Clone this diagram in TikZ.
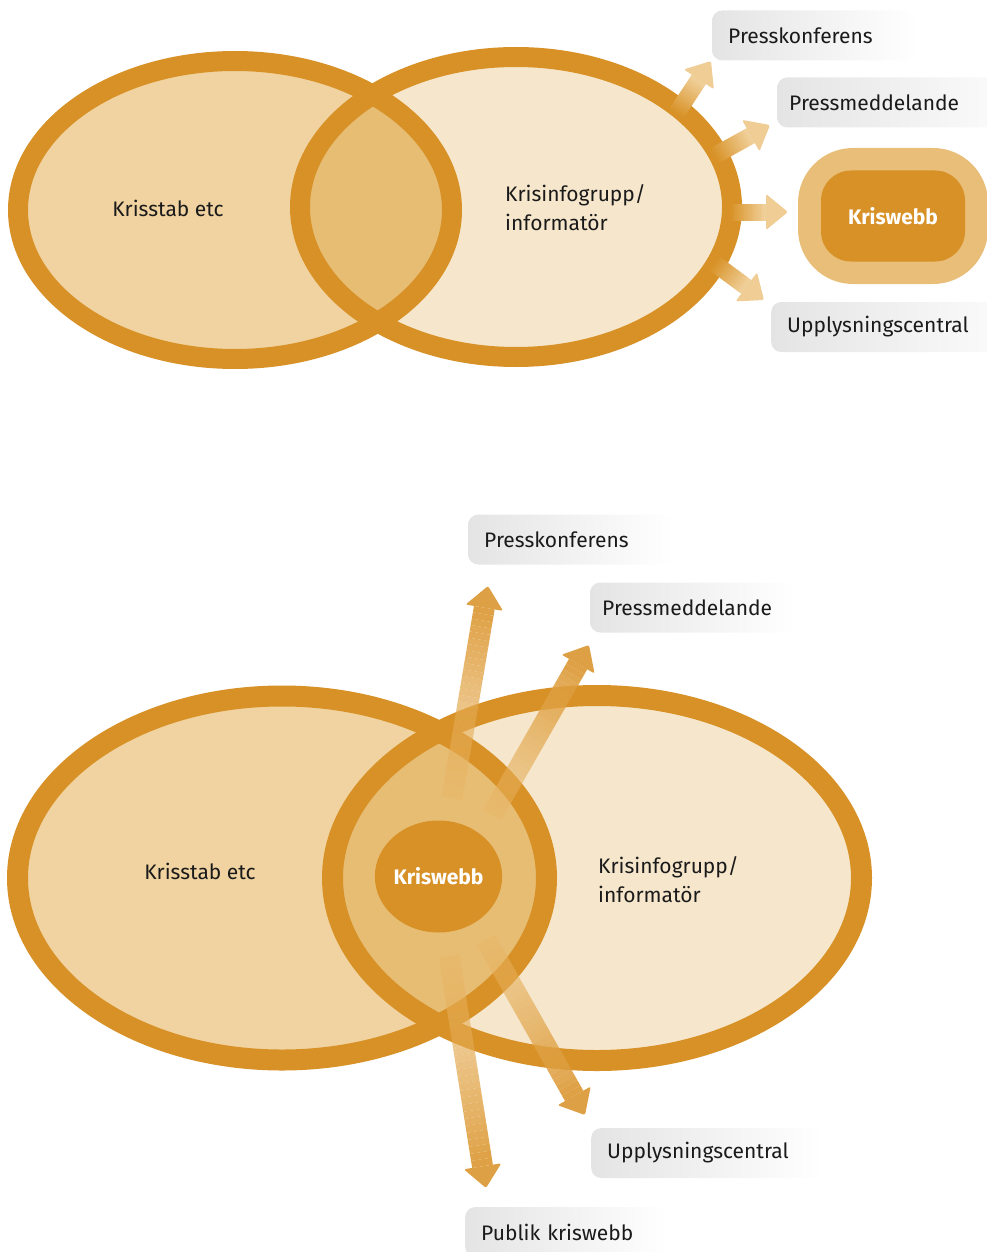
\documentclass[tikz,border=0pt]{standalone}
\usepackage{fontspec}
\setmainfont{Fira Sans}
\usetikzlibrary{calc,shapes.geometric}

\definecolor{ring}{HTML}{D89126}
\definecolor{stabfill}{HTML}{F0D3A0}
\definecolor{infofill}{HTML}{F6E7CC}
\definecolor{overlapfill}{HTML}{E7BD74}
\definecolor{webbouter}{HTML}{E8BE78}
\definecolor{ink}{HTML}{1A1A1A}
\definecolor{tagshade}{HTML}{E4E4E4}
\definecolor{rayfrom}{HTML}{D89126}
\definecolor{rayto}{HTML}{F1D29E}
\definecolor{beamfrom}{HTML}{E9B666}
\definecolor{beamto}{HTML}{DC9A38}

\tikzset{
  every node/.style={font=\fontsize{21}{29}\selectfont, text=ink},
  ringline/.style={draw=ring, line width=20pt},
  ringlinewide/.style={draw=ring, line width=21pt},
  tag/.style={rectangle, rounded corners=10pt, left color=tagshade, right color=white,
    minimum height=50pt, inner xsep=16pt, inner ysep=0pt, align=left, anchor=west},
  plain/.style={align=left, anchor=west, inner sep=0pt},
  webbtext/.style={font=\fontsize{21}{26}\selectfont\bfseries, text=white},
}

% opaque ray: shaft shaded from the ring colour towards a pale tip
\newcommand\solidray[2]{%
  \coordinate (#2-base) at ($(#2)!22pt!(#1)$);
  \foreach \k in {0,...,19}{
    \pgfmathsetmacro\fa{\k/20}
    \pgfmathsetmacro\fb{(\k+1.15)/20}
    \pgfmathtruncatemacro\mixpct{100*(\k+0.5)/20}
    \draw[line width=17pt, draw=rayto!\mixpct!rayfrom]
      ($(#1)!\fa!(#2-base)$) -- ($(#1)!\fb!(#2-base)$);
  }
  \fill[rayto!92!rayfrom, rounded corners=2pt]
    ($(#2-base)!18pt!90:(#2)$) -- (#2) -- ($(#2-base)!18pt!-90:(#2)$) -- cycle;
}

% translucent ray: fades in from the centre outwards
\newcommand\fadedray[2]{%
  \coordinate (#2-base) at ($(#2)!22pt!(#1)$);
  \foreach \k in {0,...,29}{
    \pgfmathsetmacro\fa{\k/30}
    \pgfmathsetmacro\fb{(\k+1)/30}
    \pgfmathtruncatemacro\mixpct{100*(\k+0.5)/30}
    \pgfmathsetmacro\op{0.45+0.5*(\k+0.5)/30}
    \draw[line width=21pt, draw=beamto!\mixpct!beamfrom, draw opacity=\op]
      ($(#1)!\fa!(#2-base)$) -- ($(#1)!\fb!(#2-base)$);
  }
  \fill[beamto, fill opacity=0.94, rounded corners=2pt]
    ($(#2-base)!19pt!90:(#2)$) -- (#2) -- ($(#2-base)!19pt!-90:(#2)$) -- cycle;
}

\begin{document}
\begin{tikzpicture}[x=1pt, y=-1pt]
\useasboundingbox (0,0) rectangle (986,1252);

% ---------------- upper diagram ----------------
\fill[stabfill] (235,210) ellipse [x radius=217, y radius=149];
\fill[infofill] (516,207) ellipse [x radius=216, y radius=150];
\begin{scope}
  \clip (235,210) ellipse [x radius=217, y radius=149];
  \fill[overlapfill] (516,207) ellipse [x radius=216, y radius=150];
\end{scope}
\draw[ringline] (235,210) ellipse [x radius=217, y radius=149];
\draw[ringline] (516,207) ellipse [x radius=216, y radius=150];

\node (stab1) at (168,208) {Krisstab etc};
\node[plain] (info1) at (505,208) {Krisinfogrupp/\\informatör};

% rays out of the information group
\coordinate (t1a) at (676,114); \coordinate (t1b) at (711,61);
\coordinate (t2a) at (714,156); \coordinate (t2b) at (770,125);
\coordinate (t3a) at (730,212); \coordinate (t3b) at (788,212);
\coordinate (t4a) at (714,263); \coordinate (t4b) at (764,300);
\solidray{t1a}{t1b}
\solidray{t2a}{t2b}
\solidray{t3a}{t3b}
\solidray{t4a}{t4b}

% channels
\node[tag, text width=174pt] (pk1) at (712,35.5) {Presskonferens};
\node[tag, inner xsep=12pt, text width=240pt] (pm1) at (777,102.5) {Pressmeddelande};
\node[tag, text width=240pt] (up1) at (771,327) {Upplysningscentral};

\node[rectangle, fill=webbouter, rounded corners=55pt, minimum width=190pt,
      minimum height=136pt] (webb1o) at (893,216) {};
\node[rectangle, fill=ring, rounded corners=30pt, minimum width=144pt,
      minimum height=91pt, webbtext] (webb1) at (893,216) {Kriswebb};

% ---------------- lower diagram ----------------
\fill[stabfill] (282,878) ellipse [x radius=264.5, y radius=182];
\fill[infofill] (597,878) ellipse [x radius=264.5, y radius=182.5];
\begin{scope}
  \clip (282,878) ellipse [x radius=264.5, y radius=182];
  \fill[overlapfill] (597,878) ellipse [x radius=264.5, y radius=182.5];
\end{scope}
\draw[ringlinewide] (282,878) ellipse [x radius=264.5, y radius=182];
\draw[ringlinewide] (597,878) ellipse [x radius=264.5, y radius=182.5];

\node (stab2) at (200,871) {Krisstab etc};
\node[plain] (info2) at (598,880) {Krisinfogrupp/\\informatör};

\node[ellipse, fill=ring, inner sep=0pt, minimum width=119pt, minimum height=112pt,
      webbtext] (webb2) at (438.5,876.5) {Kriswebb};

% rays out of the crisis web
\coordinate (b1a) at (452,798);  \coordinate (b1b) at (488,586);
\coordinate (b2a) at (492,815);  \coordinate (b2b) at (589,645);
\coordinate (b3a) at (449,956);  \coordinate (b3b) at (486,1188);
\coordinate (b4a) at (486,940);  \coordinate (b4b) at (585,1115);
\fadedray{b1a}{b1b}
\fadedray{b2a}{b2b}
\fadedray{b3a}{b3b}
\fadedray{b4a}{b4b}

\node[tag, text width=173pt] (pk2) at (468,539.5) {Presskonferens};
\node[tag, inner xsep=12pt, text width=180pt] (pm2) at (590,607.5) {Pressmeddelande};
\node[tag, text width=200pt] (up2) at (591,1153) {Upplysningscentral};
\node[tag, text width=170pt] (pub2) at (465,1232) {Publik kriswebb};

\end{tikzpicture}
\end{document}
